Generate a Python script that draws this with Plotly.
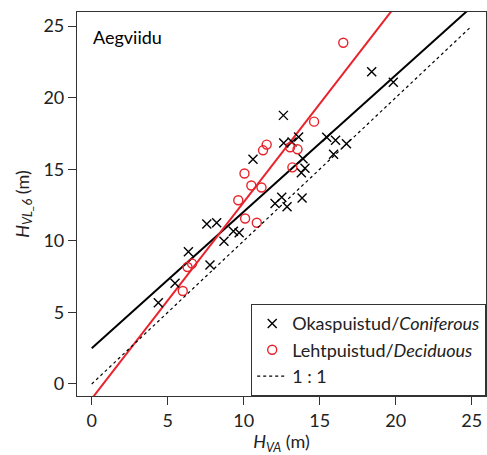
import plotly.graph_objects as go

# Coniferous (Okaspuistud) points: H_VA, H_VL_6
con_x = [4.38, 5.48, 6.36, 7.78, 7.57, 8.22, 8.70, 9.32, 9.70, 10.61, 12.61, 12.63, 13.18, 13.61,
         15.46, 16.04, 16.76, 15.91, 13.90, 14.03, 13.79, 12.06, 12.50, 12.85, 13.84, 18.42, 19.84]
con_y = [5.68, 7.03, 9.24, 8.31, 11.17, 11.26, 9.97, 10.67, 10.57, 15.70, 18.76, 16.83, 16.90, 17.25,
         17.23, 17.02, 16.78, 16.04, 15.73, 15.06, 14.76, 12.60, 13.04, 12.37, 12.99, 21.81, 21.07]

# Deciduous (Lehtpuistud) points
dec_x = [5.99, 6.30, 6.60, 9.64, 10.09, 10.86, 10.05, 10.50, 11.17, 11.27, 11.51, 13.05, 13.54,
         13.20, 14.63, 16.55]
dec_y = [6.49, 8.17, 8.41, 12.83, 11.56, 11.26, 14.70, 13.86, 13.72, 16.32, 16.72, 16.53, 16.39,
         15.13, 18.32, 23.83]

# Regression lines (intercept, slope) and x span
con_fit = (2.49, 0.954)
dec_fit = (-1.03, 1.373)
fit_x = [0, 26]
one_x = [0, 25]

x_ticks = [0, 5, 10, 15, 20, 25]
y_ticks = [0, 5, 10, 15, 20, 25]

RED = "#e8232b"
FONT = "Lato"

fig = go.Figure()
fig.add_trace(go.Scatter(x=fit_x, y=[con_fit[0] + con_fit[1] * v for v in fit_x], mode="lines",
                         line=dict(color="black", width=2), showlegend=False, hoverinfo="skip"))
fig.add_trace(go.Scatter(x=fit_x, y=[dec_fit[0] + dec_fit[1] * v for v in fit_x], mode="lines",
                         line=dict(color=RED, width=2), showlegend=False, hoverinfo="skip"))
fig.add_trace(go.Scatter(x=con_x, y=con_y, mode="markers", name="Okaspuistud/<i>Coniferous</i>",
                         marker=dict(symbol="x-thin", size=9, line=dict(color="black", width=1.4),
                                     color="black")))
fig.add_trace(go.Scatter(x=dec_x, y=dec_y, mode="markers", name="Lehtpuistud/<i>Deciduous</i>",
                         marker=dict(symbol="circle-open", size=9, color=RED,
                                     line=dict(color=RED, width=1.4))))
fig.add_trace(go.Scatter(x=one_x, y=one_x, mode="lines", name="1 : 1",
                         line=dict(color="black", width=1.2, dash="3px,3px")))

fig.add_annotation(text="Aegviidu", x=0, y=1, xref="paper", yref="paper", xanchor="left",
                   yanchor="top", xshift=14, yshift=-12, showarrow=False,
                   font=dict(family=FONT, size=18, color="black"))

axis_common = dict(showline=True, mirror=True, linecolor="#333", linewidth=1.2, ticks="outside",
                   ticklen=8, tickwidth=1.2, tickcolor="#333", showgrid=False, zeroline=False,
                   automargin=False, tickfont=dict(family=FONT, size=18, color="#222"))

fig.update_xaxes(range=[-0.97, 25.94], tickvals=x_ticks, **axis_common,
                 title=dict(text="<i>H</i><sub><i>VA</i></sub> (m)", standoff=4,
                            font=dict(family=FONT, size=18, color="#222")))
fig.update_yaxes(range=[-0.84, 25.98], tickvals=y_ticks, **axis_common,
                 title=dict(text="<i>H</i><sub><i>VL_6</i></sub> (m)", standoff=9,
                            font=dict(family=FONT, size=18, color="#222")))

fig.update_layout(width=487, height=455, margin=dict(l=77, r=1, t=12, b=59),
                  plot_bgcolor="white", paper_bgcolor="white",
                  legend=dict(x=1, y=0, xanchor="right", yanchor="bottom",
                              bordercolor="#333", borderwidth=1.2, bgcolor="white",
                              font=dict(family=FONT, size=18, color="#222"),
                              itemwidth=30, tracegroupgap=0))

fig.write_html("out.html", config={"displayModeBar": False},
               post_script="document.body.style.margin='0';")
